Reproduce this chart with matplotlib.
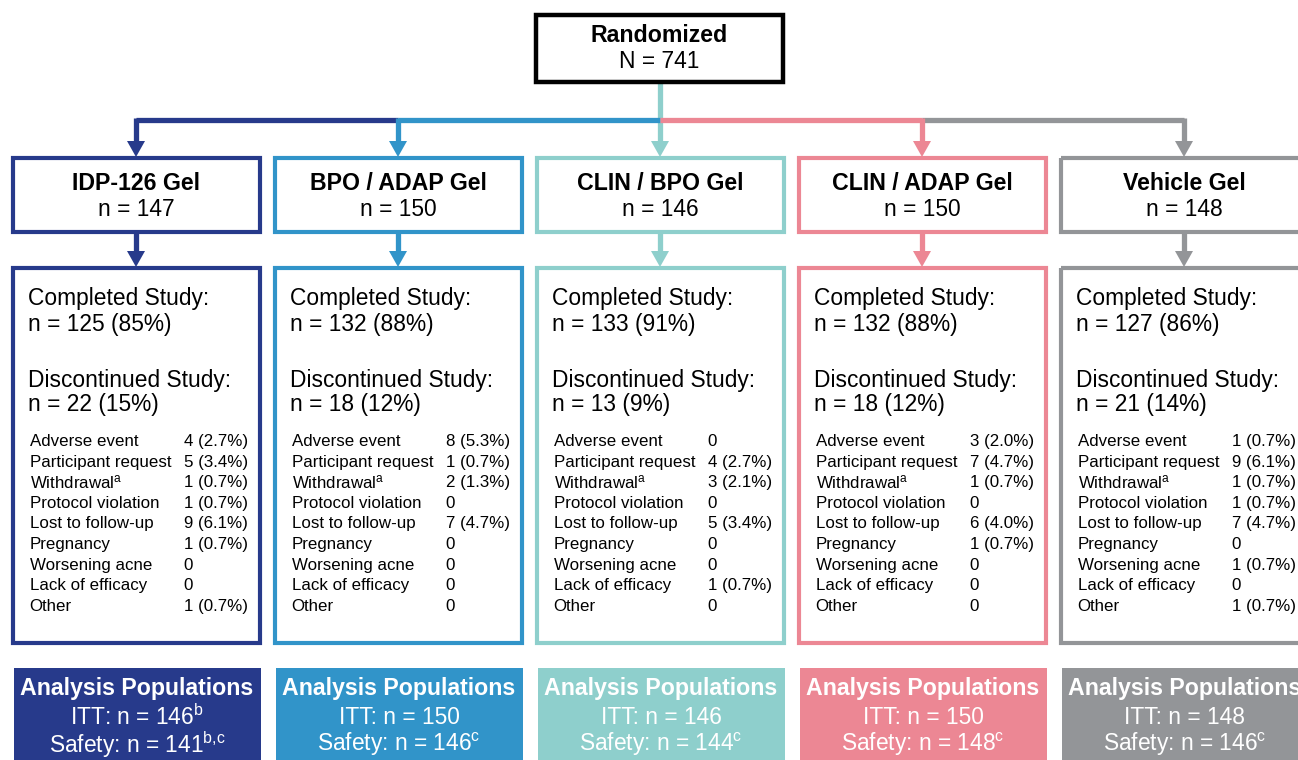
import matplotlib
matplotlib.use("Agg")
import matplotlib.pyplot as plt
from matplotlib.patches import Rectangle, Polygon

plt.rcParams["font.family"] = ["Liberation Sans", "DejaVu Sans"]
plt.rcParams["mathtext.fontset"] = "custom"
plt.rcParams["mathtext.rm"] = "Liberation Sans"
plt.rcParams["mathtext.it"] = "Liberation Sans:italic"
plt.rcParams["mathtext.bf"] = "Liberation Sans:bold"

# ---- data ----
total_randomized = 741
arms = ["IDP-126 Gel", "BPO / ADAP Gel", "CLIN / BPO Gel", "CLIN / ADAP Gel", "Vehicle Gel"]
arm_n = [147, 150, 146, 150, 148]
completed_n = [125, 132, 133, 132, 127]
completed_pct = [85, 88, 91, 88, 86]
discont_n = [22, 18, 13, 18, 21]
discont_pct = [15, 12, 9, 12, 14]

reasons = ["Adverse event", "Participant request", r"Withdrawal$^{\mathrm{a}}$", "Protocol violation",
           "Lost to follow-up", "Pregnancy", "Worsening acne", "Lack of efficacy", "Other"]
reason_counts = [
    ["4 (2.7%)", "5 (3.4%)", "1 (0.7%)", "1 (0.7%)", "9 (6.1%)", "1 (0.7%)", "0", "0", "1 (0.7%)"],
    ["8 (5.3%)", "1 (0.7%)", "2 (1.3%)", "0", "7 (4.7%)", "0", "0", "0", "0"],
    ["0", "4 (2.7%)", "3 (2.1%)", "0", "5 (3.4%)", "0", "0", "1 (0.7%)", "0"],
    ["3 (2.0%)", "7 (4.7%)", "1 (0.7%)", "0", "6 (4.0%)", "1 (0.7%)", "0", "0", "0"],
    ["1 (0.7%)", "9 (6.1%)", "1 (0.7%)", "1 (0.7%)", "7 (4.7%)", "0", "1 (0.7%)", "0", "1 (0.7%)"],
]
itt_labels = [r"146$^{\mathrm{b}}$", "150", "146", "150", "148"]
safety_labels = [r"141$^{\mathrm{b{,}c}}$", r"146$^{\mathrm{c}}$", r"144$^{\mathrm{c}}$",
                 r"148$^{\mathrm{c}}$", r"146$^{\mathrm{c}}$"]

arm_colors = ["#273a8b", "#3194c9", "#8ecfcc", "#ec8794", "#939598"]

# ---- layout (pixel coordinates) ----
fig = plt.figure(figsize=(12.98, 7.60), dpi=100)
ax = fig.add_axes([0, 0, 1, 1])
ax.set_xlim(0, 1298)
ax.set_ylim(760, 0)
ax.axis("off")

centers = [136, 398, 660, 922, 1184]
box_w = 247
lw_box = 3.0
lw_conn = 3.8
fs_big = 16.4
fs_bold = 16.7
fs_small = 12.2


def arrow_head(x, y_tip, color):
    ax.add_patch(Polygon([[x - 9, y_tip - 16], [x + 9, y_tip - 16], [x, y_tip]],
                         closed=True, facecolor=color, edgecolor="none", zorder=3))


# randomized box
ax.add_patch(Rectangle((536, 15), 247, 67, fill=False, edgecolor="black", linewidth=3.2, zorder=2))
ax.text(659, 36, "Randomized", ha="center", va="center", fontsize=fs_bold, fontweight="bold")
ax.text(659, 61, f"N = {total_randomized}", ha="center", va="center", fontsize=fs_big)

hy = 120
# stem from randomized box
ax.plot([660, 660], [82, 150], color=arm_colors[2], linewidth=lw_conn, solid_capstyle="butt", zorder=1)
arrow_head(660, 157, arm_colors[2])
# horizontal branches
ax.plot([centers[0], centers[1]], [hy, hy], color=arm_colors[0], linewidth=lw_conn, solid_capstyle="butt")
ax.plot([centers[1], centers[2]], [hy, hy], color=arm_colors[1], linewidth=lw_conn, solid_capstyle="butt")
ax.plot([centers[2], centers[3]], [hy, hy], color=arm_colors[3], linewidth=lw_conn, solid_capstyle="butt")
ax.plot([centers[3], centers[4]], [hy, hy], color=arm_colors[4], linewidth=lw_conn, solid_capstyle="butt")
for i in [0, 1, 3, 4]:
    ax.plot([centers[i], centers[i]], [hy - 1.9, 145], color=arm_colors[i], linewidth=lw_conn,
            solid_capstyle="butt")
    arrow_head(centers[i], 157, arm_colors[i])

for i, arm in enumerate(arms):
    cx = centers[i]
    col = arm_colors[i]
    left = cx - box_w / 2

    # arm box
    ax.add_patch(Rectangle((left, 158), box_w, 74, fill=False, edgecolor=col, linewidth=lw_box))
    ax.text(cx, 184, arm, ha="center", va="center", fontsize=fs_bold, fontweight="bold")
    ax.text(cx, 209, f"n = {arm_n[i]}", ha="center", va="center", fontsize=fs_big)

    # connector to detail box
    ax.plot([cx, cx], [233, 255], color=col, linewidth=lw_conn, solid_capstyle="butt")
    arrow_head(cx, 267, col)

    # detail box
    ax.add_patch(Rectangle((left, 268), box_w, 375, fill=False, edgecolor=col, linewidth=lw_box))
    tx = left + 16
    ax.text(tx, 298, "Completed Study:", ha="left", va="center", fontsize=fs_big)
    ax.text(tx, 324, f"n = {completed_n[i]} ({completed_pct[i]}%)", ha="left", va="center", fontsize=fs_big)
    ax.text(tx, 380, "Discontinued Study:", ha="left", va="center", fontsize=fs_big)
    ax.text(tx, 405, f"n = {discont_n[i]} ({discont_pct[i]}%)", ha="left", va="center", fontsize=fs_big)
    for j, reason in enumerate(reasons):
        y = 440 + j * 20.6
        ax.text(tx + 1, y, reason, ha="left", va="center_baseline", fontsize=fs_small)
        ax.text(left + 171, y, reason_counts[i][j], ha="left", va="center_baseline", fontsize=fs_small)

    # analysis populations box
    ax.add_patch(Rectangle((left + 1, 668), box_w, 100, facecolor=col, edgecolor="none"))
    ax.text(cx + 1, 689, "Analysis Populations", ha="center", va="center", fontsize=fs_bold,
            fontweight="bold", color="white")
    ax.text(cx + 1, 715, f"ITT: n = {itt_labels[i]}", ha="center", va="center_baseline",
            fontsize=fs_big, color="white")
    ax.text(cx + 1, 741, f"Safety: n = {safety_labels[i]}", ha="center", va="center_baseline",
            fontsize=fs_big, color="white")

fig.savefig("out.png", dpi=100, facecolor="white")
